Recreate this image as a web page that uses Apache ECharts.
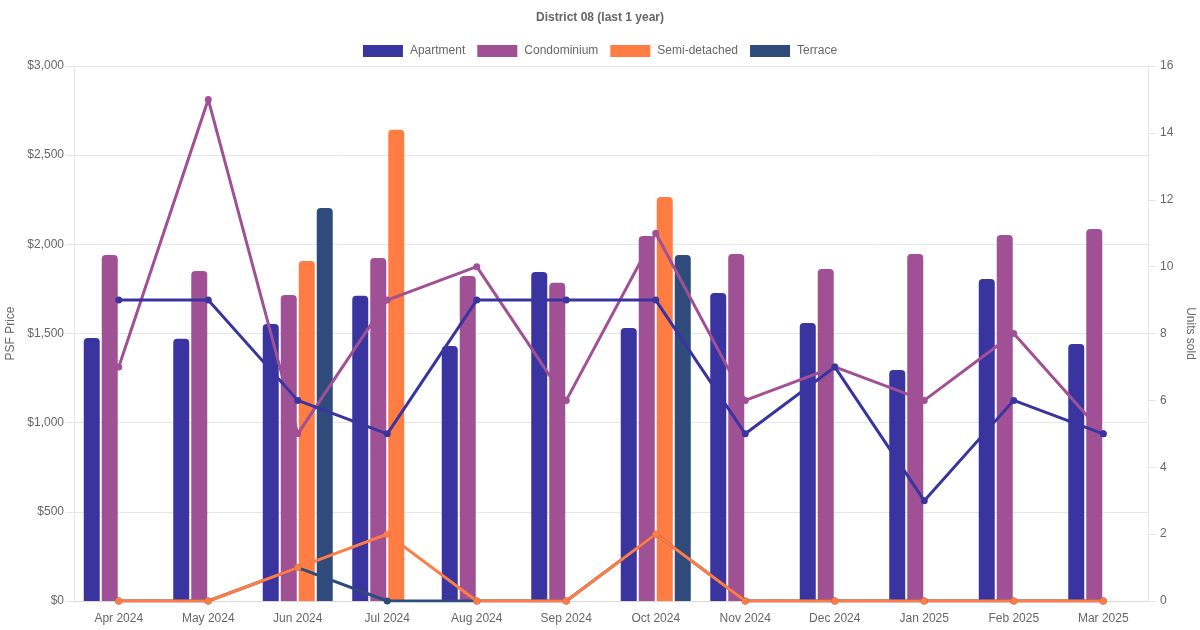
<!DOCTYPE html>
<html>
<head>
<meta charset="utf-8">
<title>District 08</title>
<script src="https://cdn.jsdelivr.net/npm/echarts@6/dist/echarts.min.js"></script>
<style>
	html, body { margin: 0; padding: 0; background: #fff; }
	#chart { width: 1200px; height: 630px; }
</style>
</head>
<body>
<div id="chart"></div>
<script>
/** -------- data -------- */
var months = ['Apr 2024', 'May 2024', 'Jun 2024', 'Jul 2024', 'Aug 2024', 'Sep 2024',
	'Oct 2024', 'Nov 2024', 'Dec 2024', 'Jan 2025', 'Feb 2025', 'Mar 2025'];
var typeNames = ['Apartment', 'Condominium', 'Semi-detached', 'Terrace'];

// PSF price (bars, left axis)
var aptPsf = [1475, 1470, 1553, 1711, 1430, 1845, 1531, 1727, 1559, 1296, 1806, 1441];
var condoPsf = [1940, 1851, 1716, 1924, 1823, 1784, 2047, 1946, 1862, 1946, 2053, 2086];
var semiPsf = [null, null, 1907, 2642, null, null, 2266, null, null, null, null, null];
var terracePsf = [null, null, 2204, null, null, null, 1940, null, null, null, null, null];

// units sold (lines, right axis)
var aptUnits = [9, 9, 6, 5, 9, 9, 9, 5, 7, 3, 6, 5];
var condoUnits = [7, 15, 5, 9, 10, 6, 11, 6, 7, 6, 8, 5];
var semiUnits = [0, 0, 1, 2, 0, 0, 2, 0, 0, 0, 0, 0];
var terraceUnits = [0, 0, 1, 0, 0, 0, 2, 0, 0, 0, 0, 0];

var colors = ['#3a34a0', '#a05195', '#ff7c43', '#2f4b7c'];
var fontFamily = '"Liberation Sans", Arial, Helvetica, sans-serif';

/** -------- series builders -------- */
function barSeries(name, data, color) {
	return {
		name: name,
		type: 'bar',
		yAxisIndex: 0,
		barWidth: 16,
		barGap: '12.5%',
		data: data,
		itemStyle: {
			color: color,
			borderRadius: [4, 4, 0, 0]
		},
		z: 2
	};
}

function lineSeries(name, data, color) {
	return {
		name: name,
		type: 'line',
		yAxisIndex: 1,
		data: data,
		symbol: 'circle',
		symbolSize: 7,
		showSymbol: true,
		lineStyle: { color: color, width: 3 },
		itemStyle: { color: color },
		z: 5
	};
}

/** -------- build chart -------- */
function initCharts() {
	var chart = echarts.init(document.getElementById('chart'), null, { renderer: 'canvas' });
	var option = {
		animation: false,
		textStyle: { fontFamily: fontFamily },
		title: {
			text: 'District 08 (last 1 year)',
			left: 'center',
			top: 7,
			textStyle: { fontSize: 12, fontWeight: 'bold', color: '#666', fontFamily: fontFamily }
		},
		legend: {
			top: 40,
			left: 'center',
			itemWidth: 40,
			itemHeight: 12,
			itemGap: 12,
			icon: 'rect',
			data: typeNames,
			textStyle: { fontSize: 12, color: '#666', fontFamily: fontFamily, padding: [0, 0, 0, 2] }
		},
		grid: {
			left: 74,
			right: 52,
			top: 66,
			bottom: 29,
			containLabel: false,
			outerBoundsMode: 'none'
		},
		xAxis: {
			type: 'category',
			data: months,
			boundaryGap: true,
			axisLine: { show: true, lineStyle: { color: '#d9d9d9' } },
			axisTick: { show: false },
			splitLine: { show: false },
			axisLabel: { color: '#666', fontSize: 12, margin: 12 }
		},
		yAxis: [
			{
				type: 'value',
				min: 0,
				max: 3000,
				interval: 500,
				name: 'PSF Price',
				nameLocation: 'middle',
				nameGap: 55,
				nameTextStyle: { color: '#666', fontSize: 12 },
				axisLine: { show: true, lineStyle: { color: '#e5e5e5' } },
				axisTick: { show: true, length: 8, lineStyle: { color: '#e5e5e5' } },
				splitLine: { show: true, lineStyle: { color: '#e5e5e5' } },
				axisLabel: {
					color: '#666',
					fontSize: 12,
					margin: 10,
					formatter: function (v) {
						return '$' + v.toLocaleString('en-US');
					}
				}
			},
			{
				type: 'value',
				min: 0,
				max: 16,
				interval: 2,
				position: 'right',
				name: 'Units sold',
				nameLocation: 'middle',
				nameGap: 34,
				nameRotate: -90,
				nameTextStyle: { color: '#666', fontSize: 12 },
				axisLine: { show: true, lineStyle: { color: '#e5e5e5' } },
				axisTick: { show: true, length: 8, lineStyle: { color: '#e5e5e5' } },
				splitLine: { show: false },
				axisLabel: { color: '#666', fontSize: 12, margin: 12 }
			}
		],
		series: [
			barSeries(typeNames[0], aptPsf, colors[0]),
			barSeries(typeNames[1], condoPsf, colors[1]),
			barSeries(typeNames[2], semiPsf, colors[2]),
			barSeries(typeNames[3], terracePsf, colors[3]),
			lineSeries(typeNames[3], terraceUnits, colors[3]),
			lineSeries(typeNames[2], semiUnits, colors[2]),
			lineSeries(typeNames[1], condoUnits, colors[1]),
			lineSeries(typeNames[0], aptUnits, colors[0])
		]
	};
	chart.setOption(option);
}

initCharts();
</script>
</body>
</html>
